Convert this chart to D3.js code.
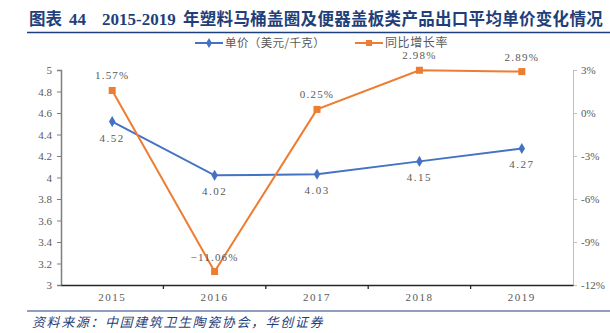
<!DOCTYPE html>
<html><head><meta charset="utf-8">
<script src="https://cdn.jsdelivr.net/npm/d3@7"></script>
<style>body{margin:0;background:#fff;}svg{display:block;}</style>
</head><body>
<svg id="c" width="610" height="333"></svg>
<script>
const categories = ["2015","2016","2017","2018","2019"];
const unitPrice = [4.52, 4.02, 4.03, 4.15, 4.27];
const growthRate = [1.57, -11.06, 0.25, 2.98, 2.89];
const leftTicks = [3,3.2,3.4,3.6,3.8,4,4.2,4.4,4.6,4.8,5];
const rightTicks = [3,0,-3,-6,-9,-12];
const seriesNames = ["单价（美元/千克）","同比增长率"];
const titleParts = ["图表", "44", "2015-2019", "年塑料马桶盖圈及便器盖板类产品出口平均单价变化情况"];
const sourceText = "资料来源：中国建筑卫生陶瓷协会，华创证券";

(function(){
const svg = d3.select("#c");
const blue = "#4472C4", orange = "#ED7D31", gray = "#595959", navy = "#1F3F7A";
const serif = "'Liberation Serif','DejaVu Serif',serif";
const cjk = "'Noto Sans CJK SC',sans-serif";

const pL = 61, pR = 573, pT = 70, pB = 285;
const x = d3.scaleBand().domain(categories).range([pL, pR]);
const yL = d3.scaleLinear().domain([3,5]).range([pB, pT]);
const yR = d3.scaleLinear().domain([-12,3]).range([pB, pT]);

// title
const t = svg.append("text").attr("y", 25).attr("font-weight", "bold").attr("fill", navy);
t.append("tspan").attr("x", 29).attr("font-family", cjk).attr("font-size", 16.5).text(titleParts[0]);
t.append("tspan").attr("x", 69).attr("font-family", serif).attr("font-size", 17).text(titleParts[1]);
t.append("tspan").attr("x", 102).attr("font-family", serif).attr("font-size", 17).text(titleParts[2]);
t.append("tspan").attr("x", 183).attr("font-family", cjk).attr("font-size", 16.5).attr("letter-spacing", 0.3).text(titleParts[3]);
svg.append("line").attr("x1", 27).attr("x2", 610).attr("y1", 32.5).attr("y2", 32.5)
  .attr("stroke", navy).attr("stroke-width", 1.5);

// legend
const ly = 43;
const lg = svg.append("g");
lg.append("line").attr("x1",195).attr("x2",223).attr("y1",ly).attr("y2",ly).attr("stroke",blue).attr("stroke-width",2);
lg.append("path").attr("d", d3.symbol(d3.symbolDiamond, 30)()).attr("transform",`translate(209,${ly})`).attr("fill",blue);
lg.append("text").attr("x",225).attr("y",ly+4).attr("font-family",cjk).attr("font-size",11.5).attr("letter-spacing",0.4).attr("fill",gray).text(seriesNames[0]);
lg.append("line").attr("x1",355).attr("x2",383).attr("y1",ly).attr("y2",ly).attr("stroke",orange).attr("stroke-width",2);
lg.append("rect").attr("x",366).attr("y",ly-3).attr("width",6).attr("height",6).attr("fill",orange);
lg.append("text").attr("x",385).attr("y",ly+4).attr("font-family",cjk).attr("font-size",12).attr("letter-spacing",0.6).attr("fill",gray).text(seriesNames[1]);

// axes
const axL = svg.append("g").attr("transform",`translate(${pL},0)`)
  .call(d3.axisLeft(yL).tickValues(leftTicks).tickSize(4).tickPadding(5).tickFormat(d=>d3.format("")(d)));
axL.select(".domain").attr("stroke","#7f7f7f").attr("stroke-width",1.5);
axL.selectAll(".tick line").attr("stroke","#7f7f7f");
axL.selectAll("text").attr("font-family",serif).attr("font-size",11).attr("fill",gray);

const axR = svg.append("g").attr("transform",`translate(${pR},0)`)
  .call(d3.axisRight(yR).tickValues(rightTicks).tickSize(4).tickPadding(4).tickFormat(d=>d+"%"));
axR.select(".domain").attr("stroke","#bfbfbf");
axR.selectAll(".tick line").attr("stroke","#bfbfbf");
axR.selectAll("text").attr("font-family",serif).attr("font-size",11).attr("fill",gray);

const axB = svg.append("g").attr("transform",`translate(0,${pB})`)
  .call(d3.axisBottom(x).tickSize(0).tickPadding(8));
axB.select(".domain").attr("stroke","#262626").attr("stroke-width",1.3);
axB.selectAll("text").attr("font-family",serif).attr("font-size",11).attr("fill",gray).attr("letter-spacing","1.5px");
svg.append("g").selectAll("line").data(categories.slice(1)).join("line")
  .attr("x1",d=>x(d)).attr("x2",d=>x(d)).attr("y1",pB).attr("y2",pB+4)
  .attr("stroke","#262626").attr("stroke-width",1.3);

const cx = d => x(d) + x.bandwidth()/2;

// price line
svg.append("path").datum(unitPrice)
  .attr("d", d3.line().x((d,i)=>cx(categories[i])).y(d=>yL(d)))
  .attr("fill","none").attr("stroke",blue).attr("stroke-width",2);
svg.append("g").selectAll("path").data(unitPrice).join("path")
  .attr("d", d3.symbol(d3.symbolDiamond, 36)())
  .attr("transform",(d,i)=>`translate(${cx(categories[i])},${yL(d)})`).attr("fill",blue);

// growth line
svg.append("path").datum(growthRate)
  .attr("d", d3.line().x((d,i)=>cx(categories[i])).y(d=>yR(d)))
  .attr("fill","none").attr("stroke",orange).attr("stroke-width",2);
svg.append("g").selectAll("rect").data(growthRate).join("rect")
  .attr("x",(d,i)=>cx(categories[i])-3.5).attr("y",d=>yR(d)-3.5)
  .attr("width",7).attr("height",7).attr("fill",orange);

// labels
svg.append("g").selectAll("text").data(unitPrice).join("text")
  .attr("x",(d,i)=>cx(categories[i])).attr("y",d=>yL(d)+20)
  .attr("text-anchor","middle").attr("font-family",serif).attr("font-size",11)
  .attr("fill",gray).attr("letter-spacing","1.5px").text(d=>d3.format(".2f")(d));
svg.append("g").selectAll("text").data(growthRate).join("text")
  .attr("x",(d,i)=>cx(categories[i])).attr("y",d=>yR(d)-11)
  .attr("text-anchor","middle").attr("font-family",serif).attr("font-size",11)
  .attr("fill",gray).attr("letter-spacing","1.2px").text(d=>d3.format(".2f")(d)+"%");

// source
svg.append("line").attr("x1",27).attr("x2",610).attr("y1",311).attr("y2",311).attr("stroke",navy).attr("stroke-width",1.2);
svg.append("text").attr("x",32).attr("y",327).attr("font-family",cjk).attr("font-size",13)
  .attr("letter-spacing",1.6).attr("font-style","italic").attr("fill",navy).text(sourceText);
})();
</script>
</body></html>
